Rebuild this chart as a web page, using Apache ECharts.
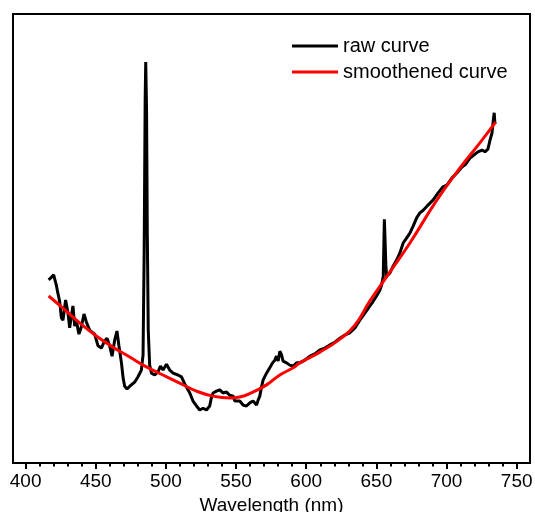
<!DOCTYPE html>
<html>
<head>
<meta charset="utf-8">
<script src="https://cdn.jsdelivr.net/npm/echarts@6/dist/echarts.min.js"></script>
<style>
html,body{margin:0;padding:0;background:#fff;}
#chart{width:535px;height:512px;}
</style>
</head>
<body>
<div id="chart"></div>
<script>
// Raw spectrum: wavelength (nm)
const rawWavelength = [416.4,418.5,420.0,420.7,421.9,422.8,424.3,425.5,426.6,428.5,430.2,431.4,432.6,433.7,435.0,436.2,438.0,439.7,441.6,443.3,445.6,449.2,451.6,454.0,456.3,458.0,459.9,461.6,463.5,465.1,466.5,468.3,469.5,470.6,472.3,474.2,477.7,480.1,482.5,483.7,484.5,485.2,485.6,486.2,486.7,487.4,488.4,489.7,492.0,494.4,496.1,497.9,500.4,502.7,505.1,508.6,511.1,513.4,517.0,519.3,521.8,524.1,526.5,528.9,531.2,532.5,533.6,536.0,538.4,540.7,543.2,545.5,547.9,549.1,550.3,552.6,555.0,557.4,559.8,562.1,564.6,565.7,566.9,568.1,569.3,571.7,574.0,576.0,577.6,578.8,580.0,581.2,582.4,583.5,586.0,588.3,590.7,593.1,595.4,599.0,602.6,606.1,609.7,613.3,616.8,620.4,624.0,627.5,631.1,634.7,638.2,641.8,645.4,647.5,650.1,652.5,653.7,654.9,655.4,655.7,656.3,656.8,657.3,659.6,662.0,664.4,666.8,669.1,671.5,673.9,676.3,678.7,681.0,683.4,687.0,690.5,693.9,697.4,700.3,703.9,707.4,711.0,713.8,716.7,719.5,722.4,725.3,727.4,729.5,731.0,732.4,733.5,734.0,734.5];
// Raw spectrum: intensity (a.u.)
const rawIntensity = [40.8,41.4,41.9,41.0,39.6,38.1,35.9,32.3,31.8,36.3,33.4,30.1,32.7,35.0,30.5,31.6,28.7,30.3,33.2,31.4,29.6,28.7,26.1,25.6,27.2,27.8,26.1,23.8,27.4,29.4,26.1,22.3,18.9,17.1,16.5,17.1,18.0,19.2,20.7,24.1,47.4,80.8,89.3,78.6,51.9,29.6,21.8,20.0,19.6,20.3,21.6,20.7,22.0,20.7,20.0,19.6,19.2,17.6,15.6,13.8,12.7,11.8,12.2,11.8,12.7,14.7,15.6,16.0,16.3,15.6,15.8,15.1,14.9,13.8,13.4,13.8,12.9,12.7,13.4,13.8,12.9,14.0,14.9,16.9,18.5,20.0,21.2,22.3,22.9,23.8,22.7,24.9,24.1,22.7,22.3,21.8,21.6,22.3,22.3,22.9,23.8,24.3,25.2,25.6,26.3,26.9,27.8,28.5,29.0,30.1,31.8,33.4,35.0,35.9,37.2,38.5,39.6,41.6,49.7,54.3,48.6,43.9,41.6,42.3,43.9,45.2,46.8,49.0,50.1,51.2,52.8,54.6,55.7,56.3,57.5,58.6,60.1,61.5,61.9,63.5,64.6,65.9,66.6,67.9,68.6,69.3,69.7,69.3,69.9,71.9,73.5,76.8,78.0,75.5];
// Smoothened curve
const smoothWavelength = [416.4,426.6,438.5,450.4,462.3,474.2,486.1,497.9,509.8,521.8,533.6,545.5,552.6,562.1,571.7,581.2,590.7,595.4,609.7,624.0,634.7,645.4,659.6,673.9,693.2,709.6,723.8,735.0];
const smoothIntensity = [37.2,34.5,31.2,28.3,25.8,23.6,21.4,19.6,17.8,16.0,14.9,14.5,14.7,15.8,17.4,19.6,21.2,22.3,24.7,27.6,30.7,36.1,42.5,49.0,58.6,65.7,71.3,75.9];
// Axis ticks
const majorTicks = [400,450,500,550,600,650,700,750];
const minorTicks = [410,420,430,440,460,470,480,490,510,520,530,540,560,570,580,590,610,620,630,640,660,670,680,690,710,720,730,740];
const seriesNames = ['raw curve','smoothened curve'];
const xTitle = 'Wavelength (nm)';

const zip = (a,b) => a.map((v,i)=>[v,b[i]]);
const FONT = '"Liberation Sans", Arial, sans-serif';
const LINE_ICON = 'path://M0,0L46,0L46,3L0,3Z';

const chart = echarts.init(document.getElementById('chart'), null, {renderer:'canvas'});
chart.setOption({
  animation:false,
  backgroundColor:'#ffffff',
  grid:{left:13, right:5, top:14, bottom:49, show:true, borderColor:'#000', borderWidth:2, containLabel:false, outerBoundsMode:'none'},
  legend:{
    orient:'vertical', left:292, top:36, padding:0,
    itemWidth:46, itemHeight:20, itemGap:6, symbolKeepAspect:true,
    textStyle:{fontSize:20, fontFamily:FONT, color:'#000', lineHeight:20},
    data:[{name:seriesNames[0], icon:LINE_ICON}, {name:seriesNames[1], icon:LINE_ICON}]
  },
  xAxis:[{
    type:'value', min:391, max:759.5, position:'bottom',
    axisLine:{show:true, lineStyle:{color:'#000', width:2}},
    axisTick:{show:true, inside:false, length:6, lineStyle:{color:'#000', width:2}, customValues:majorTicks},
    axisLabel:{show:true, customValues:majorTicks, fontSize:19, fontFamily:FONT, color:'#000', margin:9},
    splitLine:{show:false},
    name:xTitle, nameLocation:'middle', nameGap:29,
    nameTextStyle:{fontSize:19, fontFamily:FONT, color:'#000'}
  },{
    type:'value', min:391, max:759.5, position:'bottom',
    axisLine:{show:false},
    axisTick:{show:true, inside:false, length:3.5, lineStyle:{color:'#000', width:2}, customValues:minorTicks},
    axisLabel:{show:false},
    splitLine:{show:false}
  }],
  yAxis:{
    type:'value', min:0, max:100,
    axisLine:{show:true, lineStyle:{color:'#000', width:2}},
    axisTick:{show:false}, axisLabel:{show:false}, splitLine:{show:false}
  },
  series:[{
    name:seriesNames[0], type:'line', xAxisIndex:0, data:zip(rawWavelength, rawIntensity),
    symbol:'none', lineStyle:{color:'#000', width:3}, itemStyle:{color:'#000'}, z:2
  },{
    name:seriesNames[1], type:'line', xAxisIndex:0, data:zip(smoothWavelength, smoothIntensity),
    symbol:'none', smooth:true, lineStyle:{color:'#ff0000', width:3}, itemStyle:{color:'#ff0000'}, z:3
  }]
});
</script>
</body>
</html>
